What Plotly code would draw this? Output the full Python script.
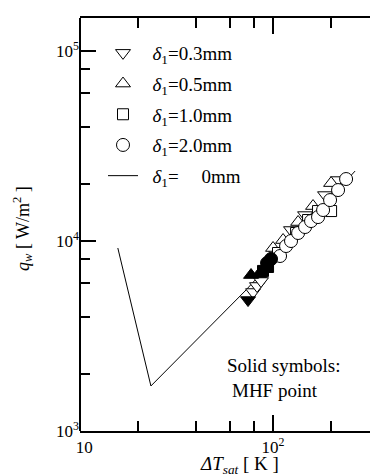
import plotly.graph_objects as go

# ---- data ----
# delta1 = 0.3 mm (down triangles)
d03_open_x = [78.8, 82.6, 86.6, 103.6, 123.9, 146.5, 185.9, 217.1]
d03_open_y = [5390, 5800, 6160, 8550, 11430, 13700, 17460, 20940]
d03_mhf_x = [74.2]
d03_mhf_y = [4890]
# delta1 = 0.5 mm (up triangles)
d05_open_x = [100.0, 112.7, 134.8, 161.1, 199.8]
d05_open_y = [9190, 10120, 12590, 15280, 20180]
d05_mhf_x = [76.9, 84.6]
d05_mhf_y = [6620, 6700]
# delta1 = 1.0 mm (squares)
d10_open_x = [106.1, 131.6, 151.8, 171.0, 199.8]
d10_open_y = [8650, 11020, 12900, 14380, 14380]
d10_mhf_x = [88.7, 94.2]
d10_mhf_y = [6960, 7300]
# delta1 = 2.0 mm (circles)
d20_open_x = [108.7, 116.8, 123.9, 134.8, 146.5, 157.3, 171.0, 181.6, 197.4, 217.1, 238.9]
d20_open_y = [8340, 9410, 10000, 11020, 11850, 12740, 13370, 14560, 16430, 18550, 21200]
d20_mhf_x = [93.1, 97.6]
d20_mhf_y = [7660, 8040]
# delta1 = 0 mm (line)
d0_x = [15.7, 23.3, 71.6, 266.0]
d0_y = [9190, 1726, 5455, 23350]

x_tickvals = [10, 100]
x_ticktext = ["\u200210", "10<sup>2</sup>"]
x_minor = [20, 40, 60, 80, 200]
y_tickvals = [1e3, 1e4, 1e5]
y_ticktext = ["10<sup>3</sup>", "10<sup>4</sup>", "10<sup>5</sup>"]
y_minor = [2e3, 4e3, 6e3, 8e3, 2e4, 4e4, 6e4, 8e4]

FONT = "Liberation Serif, Times New Roman, serif"

fig = go.Figure()

def open_trace(x, y, sym, size, name, group):
    return go.Scatter(x=x, y=y, mode="markers", name=name, legendgroup=group,
                      marker=dict(symbol=sym, size=size, color="white",
                                  line=dict(color="black", width=1)))

def solid_trace(x, y, sym, size, group):
    return go.Scatter(x=x, y=y, mode="markers", showlegend=False, legendgroup=group,
                      marker=dict(symbol=sym, size=size, color="black",
                                  line=dict(color="black", width=1)))

fig.add_trace(go.Scatter(x=d0_x, y=d0_y, mode="lines", showlegend=False,
                         line=dict(color="black", width=1)))
fig.add_trace(open_trace(d03_open_x, d03_open_y, "triangle-down", 13,
                         "\u2002<i>δ</i><sub>1</sub>=0.3mm", "a"))
fig.add_trace(open_trace(d05_open_x, d05_open_y, "triangle-up", 13,
                         "\u2002<i>δ</i><sub>1</sub>=0.5mm", "b"))
fig.add_trace(open_trace(d10_open_x, d10_open_y, "square", 11,
                         "\u2002<i>δ</i><sub>1</sub>=1.0mm", "c"))
fig.add_trace(open_trace(d20_open_x, d20_open_y, "circle", 13,
                         "\u2002<i>δ</i><sub>1</sub>=2.0mm", "d"))
fig.add_trace(solid_trace(d03_mhf_x, d03_mhf_y, "triangle-down", 13, "a"))
fig.add_trace(solid_trace(d05_mhf_x, d05_mhf_y, "triangle-up", 13, "b"))
fig.add_trace(solid_trace(d10_mhf_x, d10_mhf_y, "square", 11, "c"))
fig.add_trace(solid_trace(d20_mhf_x, d20_mhf_y, "circle", 13, "d"))
# legend entry for the line
fig.add_trace(go.Scatter(x=[None], y=[None], mode="lines", legendgroup="e",
                         name="\u2002<i>δ</i><sub>1</sub>=\u2002\u2002\u20090mm",
                         line=dict(color="black", width=1)))

axis_common = dict(type="log", linecolor="black", linewidth=2,
                   mirror="ticks", ticks="inside", ticklen=16, tickwidth=2,
                   tickcolor="black", showgrid=False, zeroline=False,
                   tickmode="array",
                   tickfont=dict(family=FONT, size=17, color="black"))

fig.update_xaxes(**axis_common, showline=True, range=[1, 2.585],
                 tickvals=x_tickvals, ticktext=x_ticktext,
                 minor=dict(tickmode="array", tickvals=x_minor, ticks="inside",
                            ticklen=10, tickwidth=2, tickcolor="black", showgrid=False))
fig.update_yaxes(**axis_common, showline=False, range=[3, 5.174],
                 tickvals=y_tickvals, ticktext=y_ticktext,
                 minor=dict(tickmode="array", tickvals=y_minor, ticks="inside",
                            ticklen=10, tickwidth=2, tickcolor="black", showgrid=False))

# left frame line (right side of the frame falls outside the picture)
fig.add_shape(type="line", xref="paper", yref="paper", x0=0, x1=0, y0=0, y1=1,
              line=dict(color="black", width=2))

# axis titles
fig.add_annotation(text="<i>ΔT</i><sub><i>sat</i></sub> [ K ]", xref="paper", yref="paper",
                   x=(231 - 72) / 306, y=(423 - 457) / 413, showarrow=False,
                   xanchor="center", yanchor="middle",
                   font=dict(family=FONT, size=19, color="black"))
fig.add_annotation(text="<i>q</i><sub><i>w</i></sub> [ W/m<sup>2</sup> ]", xref="paper", yref="paper",
                   x=(14 - 72) / 306, y=(423 - 221) / 413, showarrow=False, textangle=-90,
                   xanchor="center", yanchor="middle",
                   font=dict(family=FONT, size=18, color="black"))

fig.add_annotation(text="Solid symbols:", xref="paper", yref="paper",
                   x=(276 - 72) / 306, y=(423 - 370) / 413, showarrow=False,
                   font=dict(family=FONT, size=19, color="black"))
fig.add_annotation(text="MHF point", xref="paper", yref="paper",
                   x=(312 - 72) / 306, y=(423 - 395) / 413, showarrow=False,
                   font=dict(family=FONT, size=19, color="black"))

fig.update_layout(
    width=378, height=475,
    margin=dict(l=72, r=0, t=10, b=52),
    paper_bgcolor="white", plot_bgcolor="white",
    font=dict(family=FONT, size=19, color="black"),
    legend=dict(x=(95 - 72) / 306, y=(423 - 26) / 413, xanchor="left", yanchor="top",
                bgcolor="rgba(0,0,0,0)", traceorder="grouped", tracegroupgap=3,
                font=dict(family=FONT, size=19, color="black"), itemwidth=30),
)

fig.write_html("out.html")
